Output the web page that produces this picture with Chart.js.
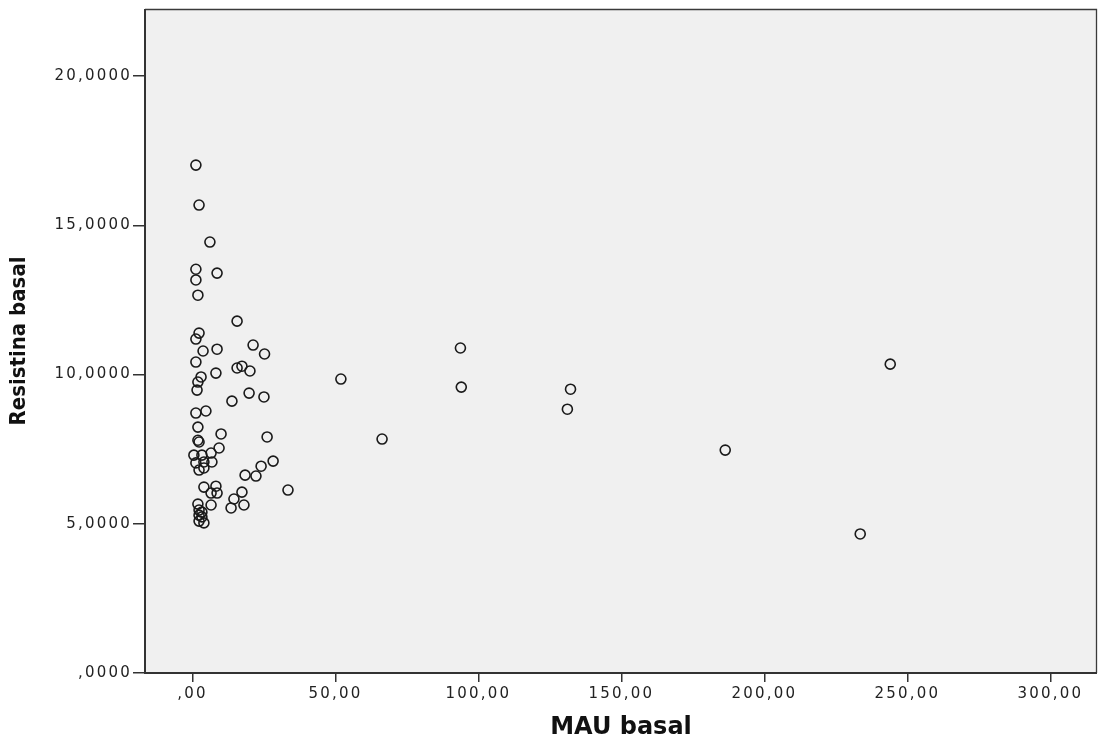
<!DOCTYPE html>
<html><head><meta charset="utf-8">
<script src="https://cdn.jsdelivr.net/npm/chart.js@4/dist/chart.umd.min.js"></script>
<style>html,body{margin:0;padding:0;background:#fff}#wrap{width:1100px;height:743px}</style>
</head><body><div id="wrap"><canvas id="c" width="1100" height="743"></canvas></div>
<script>
const xTitle = 'MAU basal';
const yTitle = 'Resistina basal';
const mauBasal = [1.2, 2.3, 6.1, 1.2, 1.2, 8.6, 1.9, 15.6, 2.3, 1.2, 21.2, 3.7, 8.6, 25.2, 1.2, 15.6, 17.3, 20.1, 8.2, 3.0,
  1.9, 1.6, 19.8, 25.0, 13.8, 1.2, 4.7, 1.9, 10.0, 26.1, 2.3, 1.9, 9.3, 0.5, 3.3, 6.5, 1.2, 4.0, 6.8, 2.3,
  4.0, 28.2, 24.0, 18.4, 22.2, 4.0, 8.2, 6.5, 8.6, 33.4, 17.3, 14.5, 18.0, 13.5, 1.9, 6.5, 2.3, 3.3, 2.3, 3.3,
  2.3, 4.0, 51.9, 66.3, 93.7, 94.0, 132.2, 131.1, 186.3, 233.5, 244.0];
const resistinaBasal = [17.02, 15.68, 14.44, 13.53, 13.17, 13.40, 12.66, 11.79, 11.39, 11.19, 10.99, 10.79, 10.85, 10.69, 10.42, 10.22, 10.28, 10.12, 10.05, 9.92,
  9.75, 9.48, 9.38, 9.25, 9.11, 8.71, 8.78, 8.24, 8.01, 7.91, 7.74, 7.80, 7.54, 7.30, 7.30, 7.37, 7.04, 7.07, 7.07, 6.80,
  6.87, 7.10, 6.93, 6.63, 6.60, 6.23, 6.26, 6.03, 6.03, 6.13, 6.06, 5.83, 5.63, 5.53, 5.66, 5.63, 5.46, 5.39, 5.29, 5.23,
  5.09, 5.03, 9.85, 7.84, 10.89, 9.58, 9.51, 8.84, 7.47, 4.66, 10.35];
const xTicks = [0, 50, 100, 150, 200, 250, 300];
const yTicks = [0, 5, 10, 15, 20];
const xRange = [-16.6, 316.3];
const yRange = [0, 22.25];

function fmt(v, d) {
  const s = v.toFixed(d).replace('.', ',');
  return s.startsWith('0,') ? s.slice(1) : s;
}

const plotFrame = {
  id: 'plotFrame',
  beforeDraw(chart) {
    const {ctx, chartArea: a} = chart;
    ctx.save();
    ctx.fillStyle = '#f0f0f0';
    ctx.fillRect(a.left, a.top, a.right - a.left, a.bottom - a.top);
    ctx.restore();
  },
  afterDatasetsDraw(chart) {
    const {ctx, chartArea: a} = chart;
    ctx.save();
    ctx.strokeStyle = '#3a3a3a';
    ctx.lineWidth = 1.3;
    ctx.beginPath();
    ctx.moveTo(a.left, a.top + 0.5); ctx.lineTo(a.right - 0.5, a.top + 0.5); ctx.lineTo(a.right - 0.5, a.bottom);
    ctx.stroke();
    ctx.lineWidth = 2;
    ctx.strokeStyle = '#333';
    ctx.beginPath();
    ctx.moveTo(a.left, a.top); ctx.lineTo(a.left, a.bottom); ctx.lineTo(a.right, a.bottom);
    ctx.stroke();
    ctx.restore();
    ctx.letterSpacing = '2.2px';
  },
  afterDraw(chart) { chart.ctx.letterSpacing = '0px'; }
};

new Chart(document.getElementById('c'), {
  type: 'scatter',
  data: {
    datasets: [{
      data: mauBasal.map((x, i) => ({x: x, y: resistinaBasal[i]})),
      pointStyle: 'circle',
      pointRadius: 5,
      pointHoverRadius: 5,
      borderWidth: 1.6,
      borderColor: '#1a1a1a',
      backgroundColor: 'rgba(0,0,0,0)'
    }]
  },
  options: {
    responsive: false,
    animation: false,
    devicePixelRatio: 1,
    layout: {autoPadding: false, padding: {top: 9, right: 3, left: 0, bottom: 0}},
    plugins: {legend: {display: false}, tooltip: {enabled: false}},
    scales: {
      x: {
        type: 'linear', min: xRange[0], max: xRange[1],
        afterBuildTicks: s => { s.ticks = xTicks.map(v => ({value: v})); },
        afterFit: s => { s.height = 70; s.paddingLeft = 0; s.paddingRight = 0; },
        grid: {drawOnChartArea: false, drawTicks: true, tickLength: 9, color: '#333', lineWidth: 1.5},
        border: {display: false},
        ticks: {z: 1, padding: 3, color: '#222', font: {family: 'DejaVu Sans', size: 15}, maxRotation: 0, autoSkip: false,
          callback: v => fmt(v, 2)},
        title: {display: true, text: xTitle, color: '#111', padding: {top: 0, bottom: 1},
          font: {family: 'DejaVu Sans', size: 24, weight: 'bold'}}
      },
      y: {
        type: 'linear', min: yRange[0], max: yRange[1],
        afterBuildTicks: s => { s.ticks = yTicks.map(v => ({value: v})); },
        afterFit: s => { s.width = 145; s.paddingTop = 0; s.paddingBottom = 0; },
        grid: {drawOnChartArea: false, drawTicks: true, tickLength: 12, color: '#333', lineWidth: 1.5},
        border: {display: false},
        ticks: {z: 1, padding: 1, color: '#222', font: {family: 'DejaVu Sans', size: 15}, autoSkip: false,
          callback: v => fmt(v, 4)},
        title: {display: true, text: yTitle, color: '#111', padding: {top: 6, bottom: 0},
          font: {family: "'DejaVu Sans Condensed', sans-serif", size: 22, weight: 'bold'}}
      }
    }
  },
  plugins: [plotFrame]
});
</script></body></html>
